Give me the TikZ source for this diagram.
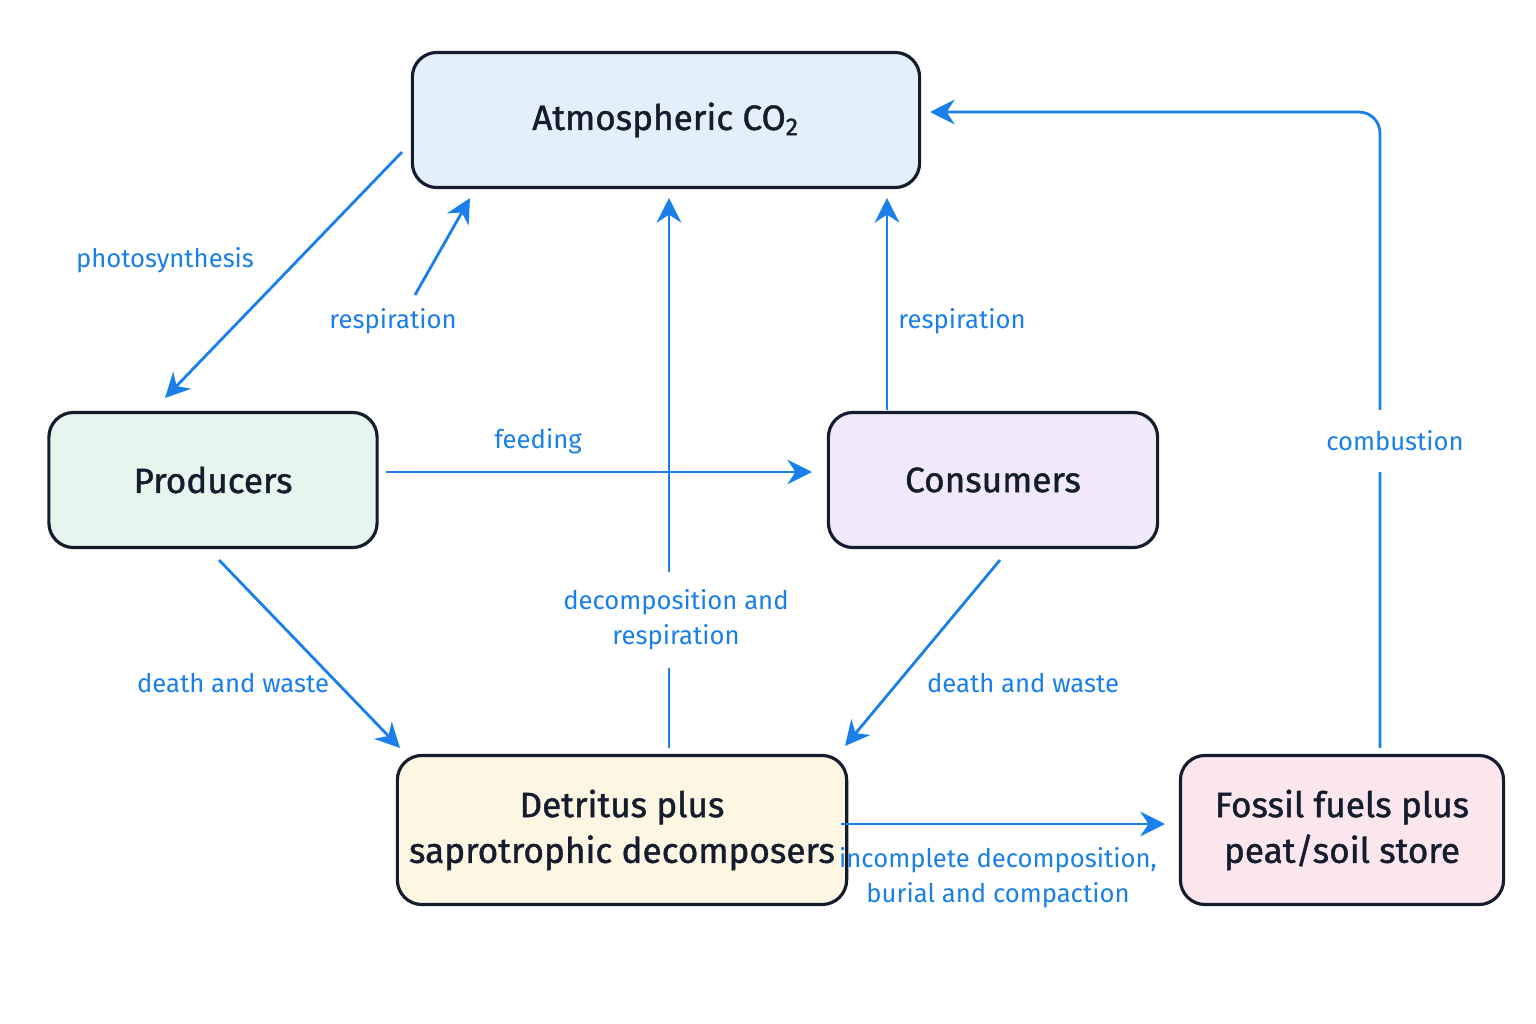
\documentclass[tikz,border=0pt]{standalone}
\usepackage{fontspec}
\setmainfont{Fira Sans}
\newfontfamily\poolfont{Fira Sans}[FakeBold=1.2]
\usepackage{tikz}
\usetikzlibrary{arrows.meta,calc,positioning}
\definecolor{flow}{HTML}{1A7FE8}
\definecolor{edge}{HTML}{141C2E}
\definecolor{atmfill}{HTML}{E3F0FC}
\definecolor{prodfill}{HTML}{E6F6EE}
\definecolor{consfill}{HTML}{F1E8FA}
\definecolor{detfill}{HTML}{FDF6E3}
\definecolor{fosfill}{HTML}{FCE6EE}
\begin{document}
\begin{tikzpicture}[x=0.01cm,y=-0.01cm,>={Stealth[length=7pt,width=7pt]},
  pool/.style={draw=edge,line width=0.9pt,rounded corners=7pt,align=center,
    font=\poolfont\fontsize{10}{13}\selectfont,text=edge},
  flowline/.style={->,draw=flow,line width=0.8pt},
  lbl/.style={text=flow,font=\fontsize{7.3}{10}\selectfont,align=center,fill=white,inner sep=1pt}]
  \useasboundingbox (0,0) rectangle (1536,1024);

  % Pools
  \node[pool,fill=atmfill,minimum width=5.07cm,minimum height=1.35cm] (atm) at (666,120) {Atmospheric CO\textsubscript{2}};
  \node[pool,fill=prodfill,minimum width=3.28cm,minimum height=1.35cm] (prod) at (213,480) {Producers};
  \node[pool,fill=consfill,minimum width=3.29cm,minimum height=1.35cm] (cons) at (993,480) {Consumers};
  \node[pool,fill=detfill,minimum width=4.2cm,minimum height=1.49cm] (det) at (622,830) {Detritus plus\\saprotrophic decomposers};
  \node[pool,fill=fosfill,minimum width=3.23cm,minimum height=1.49cm] (fos) at (1342,830) {Fossil fuels plus\\peat/soil store};

  % Free ends
  \coordinate (ph1) at (402,152); \coordinate (ph2) at (165,398);
  \coordinate (rp1) at (415,295); \coordinate (rp2) at (470,198);
  \coordinate (dc1) at (669,748); \coordinate (dc2) at (669,198);
  \coordinate (rc1) at (887,410); \coordinate (rc2) at (887,198);
  \coordinate (fd1) at (386,472); \coordinate (fd2) at (812,472);
  \coordinate (dl1) at (219,560); \coordinate (dl2) at (400,748);
  \coordinate (dr1) at (1000,560); \coordinate (dr2) at (845,746);
  \coordinate (bu1) at (841,824); \coordinate (bu2) at (1165,824);
  \coordinate (cb1) at (1380,748); \coordinate (cb2) at (930,112);

  % Flows
  \draw[flowline] (ph1) -- (ph2);
  \draw[flowline] (rp1) -- (rp2);
  \draw[flowline] (fd1) -- (fd2);
  \draw[flowline] (dc1) -- (dc2);
  \draw[flowline] (rc1) -- (rc2);
  \draw[flowline] (dl1) -- (dl2);
  \draw[flowline] (dr1) -- (dr2);
  \draw[flowline] (bu1) -- (bu2);
  \draw[flowline,rounded corners=6pt] (cb1) |- (cb2);

  % Labels
  \node[lbl,fill=none] (lph) at (165,260) {photosynthesis};
  \node[lbl,fill=none] (lrp) at (393,321) {respiration};
  \node[lbl,fill=none] (lfd) at (538,441) {feeding};
  \node[lbl,inner ysep=5pt] (ldc) at (676,620) {decomposition and\\respiration};
  \node[lbl,fill=none] (lrc) at (962,321) {respiration};
  \node[lbl,fill=none] (ldl) at (233,683) {death and waste};
  \node[lbl,fill=none] (ldr) at (1023,683) {death and waste};
  \node[lbl,fill=none] (lbu) at (998,878) {incomplete decomposition,\\burial and compaction};
  \node[lbl,inner ysep=6pt] (lcb) at (1395,441) {combustion};
\end{tikzpicture}
\end{document}
